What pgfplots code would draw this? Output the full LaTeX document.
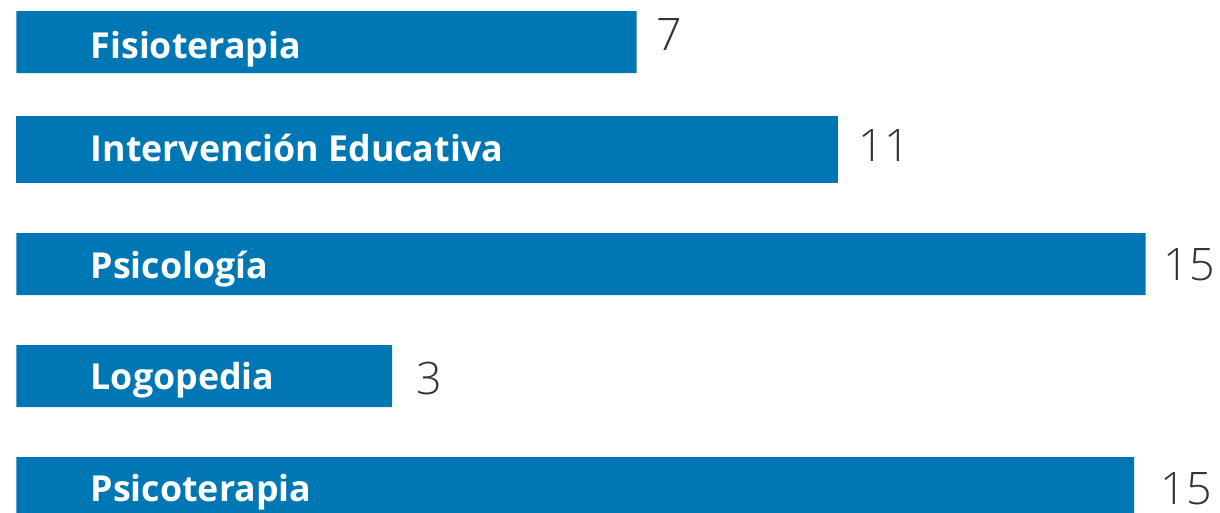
\documentclass[border=0pt]{standalone}
\usepackage{pgfplots}
\pgfplotsset{compat=1.18}
\usepackage{fontspec}
\setmainfont{Open Sans}
\newfontfamily\lightfont{Open Sans Light}
\definecolor{barblue}{HTML}{0077B5}
\definecolor{valgray}{HTML}{333333}
\begin{document}
\begin{tikzpicture}[x=0.5pt,y=-0.5pt]
\useasboundingbox (0,0) rectangle (1220,513);
\clip (0,0) rectangle (1220,513);
\begin{axis}[
  at={(8.25pt,0pt)}, anchor=north west,
  scale only axis, width=564.5pt, height=256.5pt,
  xmin=0, xmax=15, ymin=0, ymax=513, y dir=reverse,
  hide axis, clip=false,
]
% bars (lengths as drawn)
\addplot[xbar, bar width=62, bar shift=0pt, fill=barblue, draw=none]
  coordinates {(8.24,42) (15.0,264) (4.99,376) (14.85,488)};
\addplot[xbar, bar width=67, bar shift=0pt, fill=barblue, draw=none]
  coordinates {(10.91,149.5)};
% category labels
\addplot[draw=none, mark=none, point meta=explicit symbolic,
  nodes near coords,
  nodes near coords style={anchor=base west, inner sep=0pt, text=white,
    font=\bfseries\fontsize{17.9}{20}\selectfont}]
  coordinates {(0.98,58.3)[Fisioterapia] (0.98,161.7)[Intervención Educativa]
               (0.98,278.3)[Psicología] (0.98,389.3)[Logopedia] (0.98,501.7)[Psicoterapia]};
% values
\addplot[draw=none, mark=none, point meta=explicit symbolic,
  nodes near coords,
  nodes near coords style={anchor=base west, inner sep=0pt, text=valgray,
    font=\lightfont\fontsize{22.4}{26}\selectfont}]
  coordinates {(8.496,50.7)[7] (11.187,161.7)[11] (15.238,280)[15]
               (5.314,394)[3] (15.195,504)[15]};
\end{axis}
\end{tikzpicture}
\end{document}
